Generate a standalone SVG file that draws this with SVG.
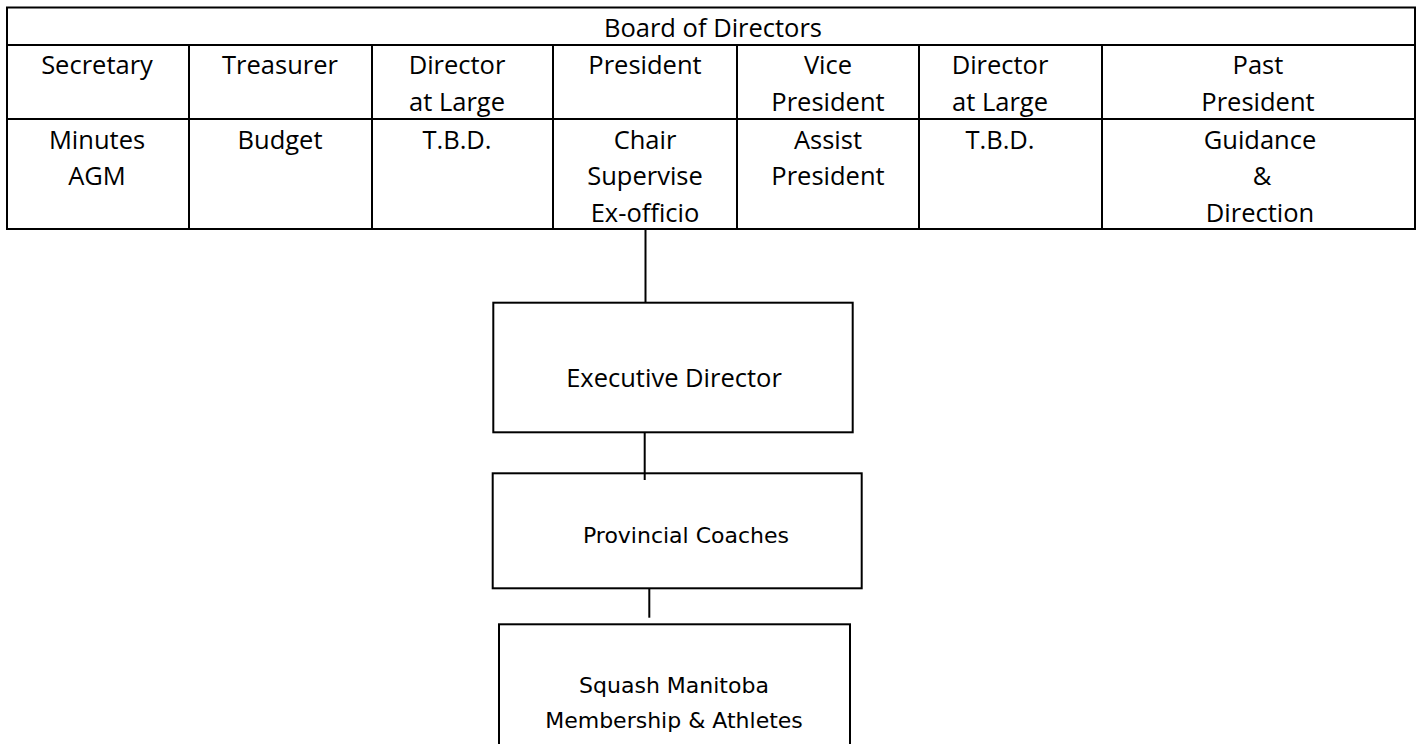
<svg xmlns="http://www.w3.org/2000/svg" width="1421" height="744" viewBox="0 0 1421 744">
<style>
.box{fill:#fff;stroke:#000;stroke-width:2}
.ln{stroke:#000;stroke-width:2;fill:none}
.t{font-family:"Open Sans","Liberation Sans",sans-serif;font-size:25.5px;fill:#000;text-anchor:middle}
.c{font-family:"DejaVu Sans","Liberation Sans",sans-serif;font-size:22px;fill:#000;text-anchor:middle}
</style>
<rect width="1421" height="744" fill="#fff"/>
<g id="board">
<rect class="box" x="7" y="7.5" width="1408" height="221.5"/>
<line class="ln" x1="7" y1="45" x2="1415" y2="45"/>
<line class="ln" x1="7" y1="119" x2="1415" y2="119"/>
<line class="ln" x1="189" y1="45" x2="189" y2="229"/>
<line class="ln" x1="372" y1="45" x2="372" y2="229"/>
<line class="ln" x1="553" y1="45" x2="553" y2="229"/>
<line class="ln" x1="737" y1="45" x2="737" y2="229"/>
<line class="ln" x1="919" y1="45" x2="919" y2="229"/>
<line class="ln" x1="1102" y1="45" x2="1102" y2="229"/>
<text class="t" x="713" y="36.5">Board of Directors</text>
</g>
<g id="secretary">
<text class="t" x="97" y="74">Secretary</text>
<text class="t" x="97" y="148.5">Minutes</text>
<text class="t" x="97" y="185">AGM</text>
</g>
<g id="treasurer">
<text class="t" x="280" y="74">Treasurer</text>
<text class="t" x="280" y="148.5">Budget</text>
</g>
<g id="director1">
<text class="t" x="457" y="74">Director</text>
<text class="t" x="457" y="111">at Large</text>
<text class="t" x="457" y="148.5">T.B.D.</text>
</g>
<g id="president">
<text class="t" x="645" y="74">President</text>
<text class="t" x="645" y="148.5">Chair</text>
<text class="t" x="645" y="185">Supervise</text>
<text class="t" x="645" y="221.5">Ex-officio</text>
</g>
<g id="vicepresident">
<text class="t" x="828" y="74">Vice</text>
<text class="t" x="828" y="111">President</text>
<text class="t" x="828" y="148.5">Assist</text>
<text class="t" x="828" y="185">President</text>
</g>
<g id="director2">
<text class="t" x="1000" y="74">Director</text>
<text class="t" x="1000" y="111">at Large</text>
<text class="t" x="1000" y="148.5">T.B.D.</text>
</g>
<g id="pastpresident">
<text class="t" x="1258" y="74">Past</text>
<text class="t" x="1258" y="111">President</text>
<text class="t" x="1260" y="148.5">Guidance</text>
<text class="t" x="1262" y="185">&amp;</text>
<text class="t" x="1260" y="221.5">Direction</text>
</g>
<g id="connectors">
<line class="ln" x1="645.5" y1="229" x2="645.5" y2="302.7"/>
<line class="ln" x1="644.7" y1="432.3" x2="644.7" y2="480"/>
<line class="ln" x1="649.3" y1="588.3" x2="649.3" y2="617.7"/>
</g>
<g id="executive-director">
<rect class="box" x="493.3" y="302.7" width="359.4" height="129.6"/>
<text class="t" x="674" y="386.7">Executive Director</text>
</g>
<g id="provincial-coaches">
<rect class="box" x="492.7" y="473.3" width="369" height="115" style="fill:none"/>
<text class="c" x="686" y="543.3">Provincial Coaches</text>
</g>
<g id="squash-manitoba">
<rect class="box" x="499" y="624.3" width="351" height="140"/>
<text class="c" x="674" y="693">Squash Manitoba</text>
<text class="c" x="674" y="728">Membership &amp; Athletes</text>
</g>
</svg>
